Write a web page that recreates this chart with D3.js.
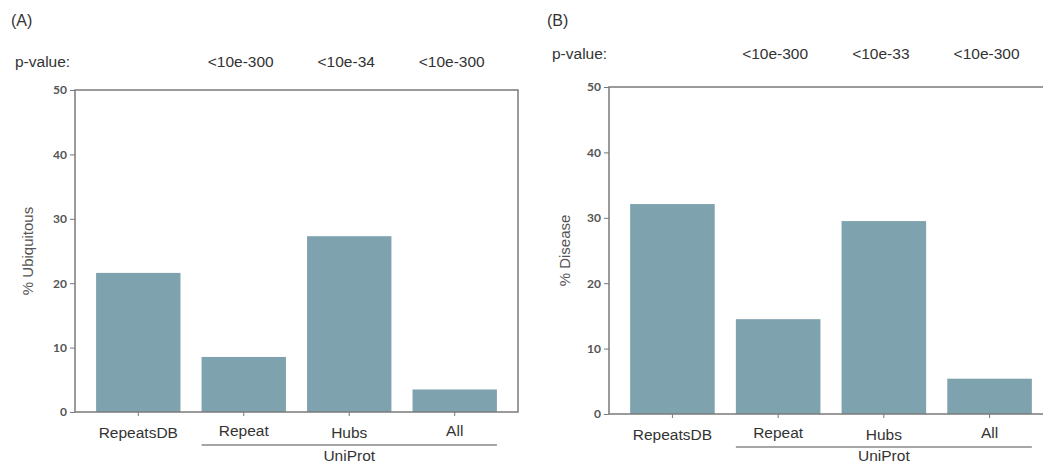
<!DOCTYPE html>
<html>
<head>
<meta charset="utf-8">
<script src="https://cdn.jsdelivr.net/npm/d3@7"></script>
<style>
  body { margin: 0; background: #fff; }
  text { font-family: "Liberation Sans", Arial, sans-serif; fill: #333; }
  .y.axis text { font-family: Lato, sans-serif; font-weight: 700; font-size: 12px; fill: #555; }
  .axis line { stroke: #777; }
  .axis path { display: none; }
</style>
</head>
<body>
<div class="chart"></div>
<script>
// data
const categories = ["RepeatsDB", "Repeat", "Hubs", "All"]
const ubiquitous = [21.6, 8.55, 27.3, 3.5]
const disease = [32.1, 14.5, 29.5, 5.4]
const pvaluesA = ["<10e-300", "<10e-34", "<10e-300"]
const pvaluesB = ["<10e-300", "<10e-33", "<10e-300"]
const yTicks = [0, 10, 20, 30, 40, 50]
const groupLabel = "UniProt"

const W = 1043, H = 466

var svg = d3.select(".chart").append("svg")
  .attr("width", W)
  .attr("height", H)

function panel(opts) {
  const m = opts.box // left, top, width, height of the frame
  var g = svg.append("g")
    .attr("transform", "translate(" + m.left + "," + m.top + ")")

  var x = d3.scaleBand()
    .domain(categories)
    .range([0, m.width])
    .paddingInner(0.2)
    .paddingOuter(0.2)

  var y = d3.scaleLinear()
    .domain([0, 50])
    .range([m.height, 0])

  // bars
  g.selectAll(".bar")
    .data(opts.values)
    .enter().append("rect")
    .attr("class", "bar")
    .attr("x", (d, i) => x(categories[i]))
    .attr("width", x.bandwidth())
    .attr("y", d => y(d))
    .attr("height", d => y(0) - y(d))
    .attr("fill", "#7fa3ae")

  // frame
  g.append("rect")
    .attr("width", m.width)
    .attr("height", m.height)
    .attr("fill", "none")
    .attr("stroke", "#7a7a7a")
    .attr("stroke-width", 1.5)

  g.append("g")
    .attr("class", "y axis")
    .call(d3.axisLeft(y).tickValues(yTicks).tickSize(5).tickPadding(3))

  var xa = g.append("g")
    .attr("class", "x axis")
    .attr("transform", "translate(0," + m.height + ")")
    .call(d3.axisBottom(x).tickSize(4).tickPadding(11))
  xa.selectAll("text")
    .style("font-size", "15.5px")
    .style("fill", "#333")
    .attr("dy", (d, i) => (i % 2 ? "0.58em" : "0.71em"))

  // y label
  g.append("text")
    .attr("transform", "translate(" + (-opts.ylabelOffset) + "," + (m.height / 2) + ") rotate(-90)")
    .attr("text-anchor", "middle")
    .style("font-size", "15px")
    .style("fill", "#555")
    .text(opts.ylabel)

  // UniProt bracket under the last three categories
  var x0 = x(categories[1]), x1 = x(categories[3]) + x.bandwidth()
  g.append("line")
    .attr("x1", x0).attr("x2", x1)
    .attr("y1", m.height + 33).attr("y2", m.height + 33)
    .attr("stroke", "#888")
    .attr("stroke-width", 1.5)
  g.append("text")
    .attr("x", (x0 + x1) / 2)
    .attr("y", H - m.top - 5)
    .attr("text-anchor", "middle")
    .style("font-size", "15.5px")
    .text(groupLabel)

  // p-values
  g.append("text")
    .attr("x", opts.pLabelX - m.left)
    .attr("y", opts.pY - m.top)
    .attr("dy", "0.35em")
    .style("font-size", "15.5px")
    .text("p-value:")
  g.selectAll(".pval")
    .data(opts.pvalues)
    .enter().append("text")
    .attr("class", "pval")
    .attr("x", (d, i) => x(categories[i + 1]) + x.bandwidth() / 2 - 3)
    .attr("y", opts.pY - m.top)
    .attr("dy", "0.35em")
    .attr("text-anchor", "middle")
    .style("font-size", "15.5px")
    .text(d => d)

  // panel letter
  svg.append("text")
    .attr("x", opts.letterX)
    .attr("y", 20)
    .attr("dy", "0.35em")
    .style("font-size", "16px")
    .text(opts.letter)
}

panel({
  box: { left: 75, top: 90, width: 443, height: 322 },
  values: ubiquitous,
  pvalues: pvaluesA,
  ylabel: "% Ubiquitous",
  ylabelOffset: 42,
  pLabelX: 15,
  pY: 62,
  letter: "(A)",
  letterX: 11
})

panel({
  box: { left: 609, top: 87, width: 444, height: 327 },
  values: disease,
  pvalues: pvaluesB,
  ylabel: "% Disease",
  ylabelOffset: 39,
  pLabelX: 552,
  pY: 54,
  letter: "(B)",
  letterX: 547
})
</script>
</body>
</html>
